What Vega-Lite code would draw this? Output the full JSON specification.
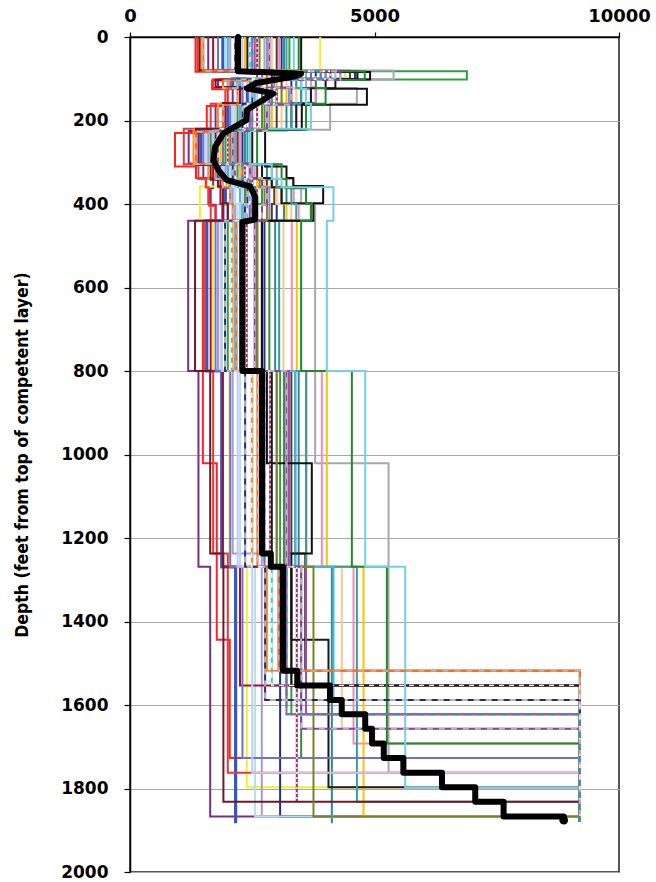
{
  "$schema": "https://vega.github.io/schema/vega-lite/v6.json",
  "width": 489,
  "height": 835,
  "autosize": {"type": "none"},
  "padding": {"left": 130, "top": 37, "right": 37, "bottom": 10},
  "background": "white",
  "config": {
    "view": {"stroke": "#222222", "strokeWidth": 1.5},
    "axis": {"labelColor": "#000", "domainColor": "#000", "tickColor": "#000", "domainWidth": 1.5, "tickWidth": 1.2, "labelFlush": false, "labelOverlap": false}
  },
  "datasets": {
    "median": [
      {"i":1,"d":0,"v":2210},{"i":2,"d":82,"v":2210},{"i":3,"d":88,"v":3500},{"i":4,"d":95,"v":3350},{"i":5,"d":110,"v":2590},{"i":6,"d":123,"v":2390},{"i":7,"d":135,"v":2930},{"i":8,"d":155,"v":2660},{"i":9,"d":175,"v":2390},{"i":10,"d":199,"v":2380},{"i":11,"d":231,"v":1910},{"i":12,"d":263,"v":1740},{"i":13,"d":295,"v":1705},{"i":14,"d":319,"v":1808},{"i":15,"d":343,"v":1978},{"i":16,"d":358,"v":2456},{"i":17,"d":383,"v":2560},{"i":18,"d":437,"v":2560},{"i":19,"d":443,"v":2300},{"i":20,"d":800,"v":2300},{"i":21,"d":800,"v":2700},{"i":22,"d":1237,"v":2700},{"i":23,"d":1237,"v":2880},{"i":24,"d":1269,"v":2880},{"i":25,"d":1269,"v":3130},{"i":26,"d":1518,"v":3130},{"i":27,"d":1518,"v":3420},{"i":28,"d":1553,"v":3420},{"i":29,"d":1553,"v":4090},{"i":30,"d":1588,"v":4090},{"i":31,"d":1588,"v":4330},{"i":32,"d":1622,"v":4330},{"i":33,"d":1622,"v":4810},{"i":34,"d":1657,"v":4810},{"i":35,"d":1657,"v":4950},{"i":36,"d":1692,"v":4950},{"i":37,"d":1692,"v":5190},{"i":38,"d":1727,"v":5190},{"i":39,"d":1727,"v":5590},{"i":40,"d":1762,"v":5590},{"i":41,"d":1762,"v":6380},{"i":42,"d":1797,"v":6380},{"i":43,"d":1797,"v":7060},{"i":44,"d":1832,"v":7060},{"i":45,"d":1832,"v":7640},{"i":46,"d":1867,"v":7640},{"i":47,"d":1867,"v":8870},{"i":48,"d":1876,"v":8870}
    ],
    "profiles": [
      {"p":"P1","d":0,"v":1600},{"p":"P1","d":81,"v":2600},{"p":"P1","d":101,"v":1800},{"p":"P1","d":124,"v":2100},{"p":"P1","d":162,"v":1750},{"p":"P1","d":225,"v":1200},{"p":"P1","d":303,"v":1500},{"p":"P1","d":338,"v":1700},{"p":"P1","d":362,"v":1650},{"p":"P1","d":402,"v":1750},{"p":"P1","d":440,"v":1190},{"p":"P1","d":800,"v":1400},{"p":"P1","d":1269,"v":1640},{"p":"P1","d":1867,"v":9200},{"p":"P1","d":1880,"v":9200},
      {"p":"P3","d":0,"v":1340},{"p":"P3","d":83,"v":3100},{"p":"P3","d":104,"v":1680},{"p":"P3","d":125,"v":2000},{"p":"P3","d":165,"v":1570},{"p":"P3","d":230,"v":920},{"p":"P3","d":310,"v":1350},{"p":"P3","d":338,"v":1560},{"p":"P3","d":360,"v":1620},{"p":"P3","d":404,"v":1750},{"p":"P3","d":440,"v":1490},{"p":"P3","d":800,"v":1490},{"p":"P3","d":1021,"v":1774},{"p":"P3","d":1444,"v":2040},{"p":"P3","d":1727,"v":9200},{"p":"P3","d":1880,"v":9200},
      {"p":"P4","d":0,"v":1900},{"p":"P4","d":82,"v":3300},{"p":"P4","d":100,"v":2100},{"p":"P4","d":122,"v":2400},{"p":"P4","d":160,"v":2000},{"p":"P4","d":222,"v":1450},{"p":"P4","d":305,"v":1800},{"p":"P4","d":340,"v":2000},{"p":"P4","d":360,"v":1950},{"p":"P4","d":400,"v":1900},{"p":"P4","d":440,"v":1570},{"p":"P4","d":800,"v":1876},{"p":"P4","d":1269,"v":2160},{"p":"P4","d":1883,"v":2160},
      {"p":"P5","d":0,"v":3890},{"p":"P5","d":79,"v":4200},{"p":"P5","d":100,"v":2900},{"p":"P5","d":122,"v":3100},{"p":"P5","d":160,"v":2600},{"p":"P5","d":222,"v":1900},{"p":"P5","d":305,"v":2300},{"p":"P5","d":342,"v":2000},{"p":"P5","d":358,"v":1430},{"p":"P5","d":440,"v":1700},{"p":"P5","d":800,"v":2033},{"p":"P5","d":1269,"v":2388},{"p":"P5","d":1797,"v":9200},{"p":"P5","d":1880,"v":9200},
      {"p":"P6","d":0,"v":2050},{"p":"P6","d":82,"v":3600},{"p":"P6","d":102,"v":2300},{"p":"P6","d":121,"v":2700},{"p":"P6","d":158,"v":2250},{"p":"P6","d":219,"v":1600},{"p":"P6","d":302,"v":1950},{"p":"P6","d":340,"v":2150},{"p":"P6","d":362,"v":2100},{"p":"P6","d":401,"v":2150},{"p":"P6","d":440,"v":1800},{"p":"P6","d":800,"v":2100},{"p":"P6","d":1237,"v":2695},{"p":"P6","d":1867,"v":9200},{"p":"P6","d":1880,"v":9200},
      {"p":"P9","d":0,"v":3260},{"p":"P9","d":82,"v":6890},{"p":"P9","d":102,"v":3400},{"p":"P9","d":122,"v":3000},{"p":"P9","d":160,"v":2700},{"p":"P9","d":222,"v":1950},{"p":"P9","d":305,"v":2200},{"p":"P9","d":340,"v":2500},{"p":"P9","d":360,"v":2700},{"p":"P9","d":400,"v":2600},{"p":"P9","d":440,"v":2000},{"p":"P9","d":800,"v":3070},{"p":"P9","d":1269,"v":3300},{"p":"P9","d":1622,"v":9200},{"p":"P9","d":1880,"v":9200},
      {"p":"P10","d":0,"v":2450},{"p":"P10","d":83,"v":3200},{"p":"P10","d":100,"v":2500},{"p":"P10","d":122,"v":2800},{"p":"P10","d":160,"v":2400},{"p":"P10","d":220,"v":1800},{"p":"P10","d":305,"v":2150},{"p":"P10","d":340,"v":2350},{"p":"P10","d":360,"v":2450},{"p":"P10","d":400,"v":2400},{"p":"P10","d":440,"v":2081},{"p":"P10","d":800,"v":2490},{"p":"P10","d":1269,"v":2900},{"p":"P10","d":1553,"v":9200},{"p":"P10","d":1880,"v":9200},
      {"p":"P12","d":0,"v":2600},{"p":"P12","d":82,"v":4100},{"p":"P12","d":101,"v":2700},{"p":"P12","d":124,"v":3000},{"p":"P12","d":160,"v":2600},{"p":"P12","d":222,"v":2000},{"p":"P12","d":305,"v":2350},{"p":"P12","d":340,"v":2500},{"p":"P12","d":360,"v":2600},{"p":"P12","d":400,"v":2550},{"p":"P12","d":440,"v":2388},{"p":"P12","d":800,"v":2865},{"p":"P12","d":1269,"v":3411},{"p":"P12","d":1830,"v":3411},
      {"p":"P13","d":0,"v":2750},{"p":"P13","d":80,"v":5390},{"p":"P13","d":102,"v":3600},{"p":"P13","d":122,"v":4640},{"p":"P13","d":160,"v":4093},{"p":"P13","d":222,"v":2200},{"p":"P13","d":305,"v":3000},{"p":"P13","d":340,"v":3340},{"p":"P13","d":360,"v":3500},{"p":"P13","d":400,"v":3786},{"p":"P13","d":1021,"v":5287},{"p":"P13","d":1762,"v":9200},{"p":"P13","d":1880,"v":9200},
      {"p":"P15","d":0,"v":3000},{"p":"P15","d":81,"v":4500},{"p":"P15","d":100,"v":3100},{"p":"P15","d":123,"v":3500},{"p":"P15","d":160,"v":3000},{"p":"P15","d":220,"v":2200},{"p":"P15","d":306,"v":2600},{"p":"P15","d":342,"v":2800},{"p":"P15","d":360,"v":2950},{"p":"P15","d":400,"v":2900},{"p":"P15","d":440,"v":2695},{"p":"P15","d":800,"v":3300},{"p":"P15","d":1237,"v":3582},{"p":"P15","d":1518,"v":9200},{"p":"P15","d":1880,"v":9200},
      {"p":"P16","d":0,"v":3100},{"p":"P16","d":82,"v":4600},{"p":"P16","d":101,"v":3300},{"p":"P16","d":122,"v":3800},{"p":"P16","d":158,"v":3300},{"p":"P16","d":222,"v":2300},{"p":"P16","d":304,"v":2700},{"p":"P16","d":341,"v":2900},{"p":"P16","d":360,"v":3100},{"p":"P16","d":400,"v":3000},{"p":"P16","d":440,"v":2750},{"p":"P16","d":800,"v":3380},{"p":"P16","d":1269,"v":3070},{"p":"P16","d":1867,"v":9200},{"p":"P16","d":1880,"v":9200},
      {"p":"P17","d":0,"v":2200},{"p":"P17","d":82,"v":3400},{"p":"P17","d":102,"v":2450},{"p":"P17","d":121,"v":2700},{"p":"P17","d":160,"v":2200},{"p":"P17","d":222,"v":1650},{"p":"P17","d":305,"v":2000},{"p":"P17","d":340,"v":2300},{"p":"P17","d":360,"v":2350},{"p":"P17","d":400,"v":2300},{"p":"P17","d":440,"v":2850},{"p":"P17","d":800,"v":3150},{"p":"P17","d":1269,"v":3500},{"p":"P17","d":1727,"v":9200},{"p":"P17","d":1880,"v":9200},
      {"p":"P18","d":0,"v":3150},{"p":"P18","d":81,"v":4000},{"p":"P18","d":100,"v":3500},{"p":"P18","d":124,"v":3700},{"p":"P18","d":162,"v":3200},{"p":"P18","d":224,"v":2350},{"p":"P18","d":305,"v":2800},{"p":"P18","d":340,"v":3000},{"p":"P18","d":360,"v":3200},{"p":"P18","d":400,"v":3150},{"p":"P18","d":440,"v":2968},{"p":"P18","d":800,"v":3450},{"p":"P18","d":1269,"v":4128},{"p":"P18","d":1883,"v":4128},
      {"p":"P19","d":0,"v":2900},{"p":"P19","d":83,"v":4400},{"p":"P19","d":103,"v":3200},{"p":"P19","d":122,"v":3400},{"p":"P19","d":160,"v":3100},{"p":"P19","d":222,"v":2100},{"p":"P19","d":306,"v":2500},{"p":"P19","d":340,"v":2750},{"p":"P19","d":360,"v":3000},{"p":"P19","d":400,"v":3300},{"p":"P19","d":440,"v":3138},{"p":"P19","d":800,"v":3616},{"p":"P19","d":1269,"v":4332},{"p":"P19","d":1657,"v":9200},{"p":"P19","d":1880,"v":9200},
      {"p":"P20","d":0,"v":3050},{"p":"P20","d":82,"v":4650},{"p":"P20","d":101,"v":3700},{"p":"P20","d":120,"v":3800},{"p":"P20","d":160,"v":3400},{"p":"P20","d":222,"v":2250},{"p":"P20","d":304,"v":2550},{"p":"P20","d":338,"v":2900},{"p":"P20","d":360,"v":3350},{"p":"P20","d":400,"v":3450},{"p":"P20","d":440,"v":3309},{"p":"P20","d":800,"v":3923},{"p":"P20","d":1269,"v":4571},{"p":"P20","d":1692,"v":9200},{"p":"P20","d":1880,"v":9200},
      {"p":"P21","d":0,"v":2350},{"p":"P21","d":80,"v":3700},{"p":"P21","d":102,"v":3000},{"p":"P21","d":123,"v":3200},{"p":"P21","d":161,"v":2900},{"p":"P21","d":224,"v":1850},{"p":"P21","d":305,"v":2250},{"p":"P21","d":340,"v":2600},{"p":"P21","d":358,"v":3100},{"p":"P21","d":400,"v":3200},{"p":"P21","d":440,"v":3411},{"p":"P21","d":800,"v":4025},{"p":"P21","d":1269,"v":4776},{"p":"P21","d":1867,"v":9200},{"p":"P21","d":1880,"v":9200},
      {"p":"P25","d":0,"v":2400},{"p":"P25","d":82,"v":4650},{"p":"P25","d":101,"v":4200},{"p":"P25","d":123,"v":3700},{"p":"P25","d":160,"v":3400},{"p":"P25","d":222,"v":2500},{"p":"P25","d":305,"v":2700},{"p":"P25","d":338,"v":2900},{"p":"P25","d":360,"v":3100},{"p":"P25","d":398,"v":3700},{"p":"P25","d":440,"v":2600},{"p":"P25","d":800,"v":2900},{"p":"P25","d":1269,"v":3300},{"p":"P25","d":1444,"v":4059},{"p":"P25","d":1797,"v":9200},{"p":"P25","d":1880,"v":9200},
      {"p":"P33","d":0,"v":1950},{"p":"P33","d":82,"v":2900},{"p":"P33","d":102,"v":2150},{"p":"P33","d":124,"v":2450},{"p":"P33","d":160,"v":2100},{"p":"P33","d":222,"v":1550},{"p":"P33","d":305,"v":1900},{"p":"P33","d":340,"v":2100},{"p":"P33","d":360,"v":2150},{"p":"P33","d":400,"v":2200},{"p":"P33","d":440,"v":1850},{"p":"P33","d":800,"v":2250},{"p":"P33","d":1269,"v":2558},{"p":"P33","d":1867,"v":9200},{"p":"P33","d":1880,"v":9200},
      {"p":"P34","d":0,"v":1380},{"p":"P34","d":80,"v":2700},{"p":"P34","d":101,"v":1700},{"p":"P34","d":122,"v":1950},{"p":"P34","d":160,"v":1650},{"p":"P34","d":220,"v":1100},{"p":"P34","d":305,"v":1400},{"p":"P34","d":340,"v":1550},{"p":"P34","d":360,"v":1600},{"p":"P34","d":400,"v":1650},{"p":"P34","d":440,"v":1520},{"p":"P34","d":800,"v":1700},{"p":"P34","d":1237,"v":2000},{"p":"P34","d":1762,"v":9200},{"p":"P34","d":1880,"v":9200},
      {"p":"P35","d":0,"v":3200},{"p":"P35","d":82,"v":3900},{"p":"P35","d":100,"v":3400},{"p":"P35","d":122,"v":3500},{"p":"P35","d":160,"v":3300},{"p":"P35","d":222,"v":2400},{"p":"P35","d":305,"v":2900},{"p":"P35","d":340,"v":3000},{"p":"P35","d":360,"v":3300},{"p":"P35","d":400,"v":3400},{"p":"P35","d":440,"v":3050},{"p":"P35","d":800,"v":3600},{"p":"P35","d":1269,"v":4640},{"p":"P35","d":1832,"v":9200},{"p":"P35","d":1880,"v":9200},
      {"p":"P36","d":0,"v":1450},{"p":"P36","d":82,"v":3000},{"p":"P36","d":102,"v":2000},{"p":"P36","d":122,"v":2300},{"p":"P36","d":160,"v":1800},{"p":"P36","d":222,"v":1300},{"p":"P36","d":305,"v":1600},{"p":"P36","d":340,"v":1800},{"p":"P36","d":360,"v":1900},{"p":"P36","d":400,"v":2000},{"p":"P36","d":440,"v":2100},{"p":"P36","d":800,"v":2500},{"p":"P36","d":1269,"v":2800},{"p":"P36","d":1518,"v":9200},{"p":"P36","d":1880,"v":9200},
      {"p":"P37","d":0,"v":2000},{"p":"P37","d":82,"v":3300},{"p":"P37","d":101,"v":2250},{"p":"P37","d":123,"v":2550},{"p":"P37","d":160,"v":2250},{"p":"P37","d":222,"v":1700},{"p":"P37","d":305,"v":2000},{"p":"P37","d":340,"v":2200},{"p":"P37","d":360,"v":2250},{"p":"P37","d":400,"v":2300},{"p":"P37","d":440,"v":2150},{"p":"P37","d":800,"v":3377},{"p":"P37","d":1269,"v":4161},{"p":"P37","d":1588,"v":9200},{"p":"P37","d":1880,"v":9200},
      {"p":"P38","d":0,"v":2550},{"p":"P38","d":82,"v":3700},{"p":"P38","d":102,"v":2550},{"p":"P38","d":123,"v":2850},{"p":"P38","d":160,"v":2450},{"p":"P38","d":222,"v":1800},{"p":"P38","d":305,"v":2150},{"p":"P38","d":340,"v":2400},{"p":"P38","d":360,"v":2500},{"p":"P38","d":400,"v":2450},{"p":"P38","d":440,"v":2600},{"p":"P38","d":800,"v":3250},{"p":"P38","d":1269,"v":3600},{"p":"P38","d":1622,"v":9200},{"p":"P38","d":1880,"v":9200},
      {"p":"P39","d":0,"v":1700},{"p":"P39","d":82,"v":2950},{"p":"P39","d":102,"v":1900},{"p":"P39","d":122,"v":2250},{"p":"P39","d":160,"v":1950},{"p":"P39","d":222,"v":1400},{"p":"P39","d":305,"v":1700},{"p":"P39","d":340,"v":1850},{"p":"P39","d":360,"v":1850},{"p":"P39","d":400,"v":1900},{"p":"P39","d":440,"v":1650},{"p":"P39","d":800,"v":1900},{"p":"P39","d":1269,"v":2250},{"p":"P39","d":1553,"v":9200},{"p":"P39","d":1880,"v":9200},
      {"p":"P40","d":0,"v":2800},{"p":"P40","d":82,"v":4000},{"p":"P40","d":102,"v":2950},{"p":"P40","d":122,"v":3250},{"p":"P40","d":160,"v":2850},{"p":"P40","d":222,"v":2150},{"p":"P40","d":305,"v":2500},{"p":"P40","d":340,"v":2700},{"p":"P40","d":360,"v":2850},{"p":"P40","d":400,"v":2850},{"p":"P40","d":440,"v":2700},{"p":"P40","d":800,"v":3000},{"p":"P40","d":1269,"v":3200},{"p":"P40","d":1588,"v":9200},{"p":"P40","d":1880,"v":9200},
      {"p":"P24","d":0,"v":3500},{"p":"P24","d":84,"v":4910},{"p":"P24","d":102,"v":4000},{"p":"P24","d":124,"v":4845},{"p":"P24","d":162,"v":3513},{"p":"P24","d":222,"v":2763},{"p":"P24","d":310,"v":3200},{"p":"P24","d":338,"v":3340},{"p":"P24","d":357,"v":3950},{"p":"P24","d":398,"v":3750},{"p":"P24","d":440,"v":2700},{"p":"P24","d":800,"v":2800},{"p":"P24","d":1021,"v":3718},{"p":"P24","d":1237,"v":3300},{"p":"P24","d":1553,"v":9200},{"p":"P24","d":1880,"v":9200},
      {"p":"P23","d":0,"v":3450},{"p":"P23","d":82,"v":4800},{"p":"P23","d":103,"v":3800},{"p":"P23","d":122,"v":4000},{"p":"P23","d":160,"v":3600},{"p":"P23","d":222,"v":2600},{"p":"P23","d":305,"v":3100},{"p":"P23","d":340,"v":3200},{"p":"P23","d":362,"v":3600},{"p":"P23","d":400,"v":3700},{"p":"P23","d":440,"v":3500},{"p":"P23","d":800,"v":4537},{"p":"P23","d":1269,"v":5253},{"p":"P23","d":1692,"v":9200},{"p":"P23","d":1880,"v":9200},
      {"p":"P29","d":0,"v":1800},{"p":"P29","d":81,"v":3100},{"p":"P29","d":100,"v":2050},{"p":"P29","d":122,"v":2300},{"p":"P29","d":160,"v":2050},{"p":"P29","d":224,"v":1500},{"p":"P29","d":305,"v":1850},{"p":"P29","d":340,"v":2050},{"p":"P29","d":360,"v":2050},{"p":"P29","d":400,"v":2000},{"p":"P29","d":440,"v":1750},{"p":"P29","d":800,"v":2050},{"p":"P29","d":1269,"v":2300},{"p":"P29","d":1727,"v":9200},{"p":"P29","d":1880,"v":9200},
      {"p":"P7","d":0,"v":2300},{"p":"P7","d":81,"v":3000},{"p":"P7","d":99,"v":2400},{"p":"P7","d":123,"v":2600},{"p":"P7","d":161,"v":2150},{"p":"P7","d":222,"v":1700},{"p":"P7","d":304,"v":2050},{"p":"P7","d":339,"v":2250},{"p":"P7","d":360,"v":2300},{"p":"P7","d":398,"v":2250},{"p":"P7","d":440,"v":1880},{"p":"P7","d":800,"v":2200},{"p":"P7","d":1269,"v":2500},{"p":"P7","d":1762,"v":9200},{"p":"P7","d":1880,"v":9200},
      {"p":"P22","d":0,"v":3350},{"p":"P22","d":82,"v":4200},{"p":"P22","d":101,"v":3500},{"p":"P22","d":124,"v":3600},{"p":"P22","d":160,"v":3700},{"p":"P22","d":220,"v":2450},{"p":"P22","d":305,"v":2900},{"p":"P22","d":340,"v":3100},{"p":"P22","d":360,"v":4160},{"p":"P22","d":440,"v":4025},{"p":"P22","d":800,"v":4810},{"p":"P22","d":1269,"v":5628},{"p":"P22","d":1797,"v":9200},{"p":"P22","d":1880,"v":9200},
      {"p":"P2","d":0,"v":1420},{"p":"P2","d":80,"v":2900},{"p":"P2","d":103,"v":1750},{"p":"P2","d":120,"v":2250},{"p":"P2","d":158,"v":1900},{"p":"P2","d":220,"v":1350},{"p":"P2","d":306,"v":1650},{"p":"P2","d":342,"v":1800},{"p":"P2","d":358,"v":1900},{"p":"P2","d":398,"v":2000},{"p":"P2","d":440,"v":1330},{"p":"P2","d":800,"v":1640},{"p":"P2","d":1237,"v":1910},{"p":"P2","d":1832,"v":9200},{"p":"P2","d":1880,"v":9200},
      {"p":"P32","d":0,"v":2650},{"p":"P32","d":82,"v":3500},{"p":"P32","d":102,"v":2800},{"p":"P32","d":121,"v":3100},{"p":"P32","d":160,"v":2750},{"p":"P32","d":222,"v":2050},{"p":"P32","d":305,"v":2450},{"p":"P32","d":340,"v":2650},{"p":"P32","d":360,"v":2750},{"p":"P32","d":400,"v":2800},{"p":"P32","d":440,"v":2600},{"p":"P32","d":800,"v":3000},{"p":"P32","d":1269,"v":3752},{"p":"P32","d":1867,"v":9200},{"p":"P32","d":1880,"v":9200},
      {"p":"P11","d":0,"v":1500},{"p":"P11","d":81,"v":2800},{"p":"P11","d":104,"v":1900},{"p":"P11","d":123,"v":2200},{"p":"P11","d":163,"v":1900},{"p":"P11","d":227,"v":1350},{"p":"P11","d":304,"v":1750},{"p":"P11","d":340,"v":1900},{"p":"P11","d":360,"v":2050},{"p":"P11","d":400,"v":2100},{"p":"P11","d":440,"v":2180},{"p":"P11","d":800,"v":2606},{"p":"P11","d":1269,"v":3035},{"p":"P11","d":1518,"v":9200},{"p":"P11","d":1880,"v":9200},
      {"p":"P8","d":0,"v":2150},{"p":"P8","d":82,"v":3800},{"p":"P8","d":101,"v":2200},{"p":"P8","d":124,"v":2500},{"p":"P8","d":160,"v":2300},{"p":"P8","d":224,"v":1750},{"p":"P8","d":306,"v":2100},{"p":"P8","d":341,"v":2300},{"p":"P8","d":359,"v":2400},{"p":"P8","d":400,"v":2350},{"p":"P8","d":440,"v":1944},{"p":"P8","d":800,"v":2354},{"p":"P8","d":1269,"v":2763},{"p":"P8","d":1588,"v":9200},{"p":"P8","d":1880,"v":9200},
      {"p":"P27","d":0,"v":2500},{"p":"P27","d":82,"v":3900},{"p":"P27","d":101,"v":2650},{"p":"P27","d":124,"v":2900},{"p":"P27","d":160,"v":2500},{"p":"P27","d":222,"v":1900},{"p":"P27","d":305,"v":2300},{"p":"P27","d":340,"v":2450},{"p":"P27","d":360,"v":2550},{"p":"P27","d":400,"v":2500},{"p":"P27","d":440,"v":2250},{"p":"P27","d":800,"v":2750},{"p":"P27","d":1269,"v":3200},{"p":"P27","d":1622,"v":9200},{"p":"P27","d":1880,"v":9200},
      {"p":"P14","d":0,"v":2850},{"p":"P14","d":82,"v":4300},{"p":"P14","d":103,"v":2900},{"p":"P14","d":121,"v":3300},{"p":"P14","d":162,"v":2800},{"p":"P14","d":225,"v":2100},{"p":"P14","d":303,"v":2450},{"p":"P14","d":338,"v":2700},{"p":"P14","d":361,"v":2800},{"p":"P14","d":402,"v":2700},{"p":"P14","d":440,"v":2550},{"p":"P14","d":800,"v":3200},{"p":"P14","d":1269,"v":3500},{"p":"P14","d":1657,"v":9200},{"p":"P14","d":1880,"v":9200}
    ]
  },
  "encoding": {
    "x": {"field": "v", "type": "quantitative", "scale": {"domain": [0, 10000], "nice": false},
      "axis": {"orient": "top", "values": [0, 5000, 10000], "format": "d", "grid": false, "title": null, "labelFont": "DejaVu Sans", "labelFontWeight": "bold", "labelFontSize": 18, "tickSize": 5, "labelPadding": 7}},
    "y": {"field": "d", "type": "quantitative", "scale": {"domain": [0, 2000], "reverse": true, "nice": false},
      "axis": {"values": [0, 200, 400, 600, 800, 1000, 1200, 1400, 1600, 1800, 2000], "format": "d", "grid": true, "gridColor": "#A8A8A8", "gridWidth": 1.2, "title": "Depth (feet from top of competent layer)", "titleFont": "DejaVu Sans Condensed, Liberation Sans Narrow, Liberation Sans, sans-serif", "titleFontWeight": "bold", "titleFontSize": 17.5, "titleColor": "#000", "titlePadding": 29, "labelFont": "DejaVu Sans", "labelFontWeight": "bold", "labelFontSize": 17, "tickSize": 6, "labelPadding": 16}}
  },
  "layer": [
    {
      "data": {"name": "profiles"},
      "mark": {"type": "line", "interpolate": "step-before", "clip": true},
      "encoding": {
        "order": {"field": "d", "type": "quantitative"},
        "strokeWidth": {"condition": {"test": "datum.p === 'P4'", "value": 3.2}, "value": 2},
        "color": {"field": "p", "type": "nominal", "legend": null, "sort": null,
          "scale": {"domain": ["P1","P2","P3","P4","P5","P6","P7","P8","P9","P10","P11","P12","P13","P14","P15","P16","P17","P18","P19","P20","P21","P22","P23","P24","P25","P27","P29","P32","P33","P34","P35","P36","P37","P38","P39","P40"],
            "range": ["#7B2C8C","#701828","#FF2020","#3558C0","#F0F030","#A898D8","#C8C8EC","#28287A","#2EA040","#48C0D8","#FF6A1A","#A0306A","#A8A8A8","#8A3CA8","#5C3A20","#24308E","#3C8C3C","#2C8C8C","#FFC396","#F08CB8","#FFC000","#72D0E8","#1E8A2A","#111111","#1A1A1A","#C050B0","#7070D0","#808020","#B0E0F0","#E83838","#30A0A0","#FF8C28","#40B8E0","#9050B0","#A01030","#8090C0"]}}
      }
    },
    {
      "data": {"name": "profiles"},
      "transform": [{"filter": {"field": "p", "oneOf": ["P8", "P11", "P14"]}}],
      "mark": {"type": "line", "interpolate": "step-before", "strokeWidth": 2, "color": "#B4B4B4", "strokeDash": [6, 6], "clip": true},
      "encoding": {"order": {"field": "d", "type": "quantitative"}, "detail": {"field": "p", "type": "nominal"}}
    },
    {
      "data": {"name": "profiles"},
      "transform": [{"filter": {"field": "p", "oneOf": ["P10"]}}],
      "mark": {"type": "line", "interpolate": "step-before", "strokeWidth": 1.3, "color": "#FFFFFF", "strokeDash": [5, 5], "clip": true},
      "encoding": {"order": {"field": "d", "type": "quantitative"}, "detail": {"field": "p", "type": "nominal"}}
    },
    {
      "data": {"name": "profiles"},
      "transform": [{"filter": {"field": "p", "oneOf": ["P12"]}}],
      "mark": {"type": "line", "interpolate": "step-before", "strokeWidth": 1.3, "color": "#FFFFFF", "strokeDash": [2, 3], "clip": true},
      "encoding": {"order": {"field": "d", "type": "quantitative"}, "detail": {"field": "p", "type": "nominal"}}
    },
    {
      "data": {"name": "profiles"},
      "transform": [{"filter": {"field": "p", "oneOf": ["P27"]}}],
      "mark": {"type": "line", "interpolate": "step-before", "strokeWidth": 2, "color": "#2C9C9C", "strokeDash": [6, 6], "clip": true},
      "encoding": {"order": {"field": "d", "type": "quantitative"}, "detail": {"field": "p", "type": "nominal"}}
    },
    {
      "data": {"name": "median"},
      "mark": {"type": "line", "interpolate": "linear", "strokeWidth": 6, "color": "#000000", "strokeJoin": "round", "strokeCap": "round"},
      "encoding": {"order": {"field": "i", "type": "quantitative"}}
    },
    {
      "data": {"name": "median"},
      "transform": [{"filter": {"field": "i", "equal": 48}}],
      "mark": {"type": "point", "filled": true, "color": "#000000", "size": 75, "opacity": 1},
      "encoding": {}
    }
  ]
}
